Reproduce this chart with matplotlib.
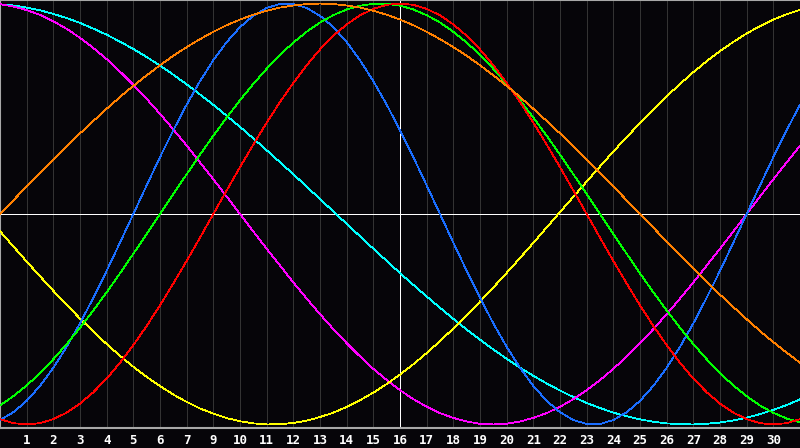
import matplotlib
matplotlib.use("Agg")
import matplotlib.pyplot as plt
import numpy as np

# half-day steps along the x axis (0 .. 30)
days = np.arange(61) / 2

# tick labels under the grid lines (the "8" is missing in the original)
tick_pos = list(range(1, 30))
tick_labels = ["1", "2", "3", "4", "5", "6", "7", "9", "10", "11", "12", "13",
               "14", "15", "16", "17", "18", "19", "20", "21", "22", "23",
               "24", "25", "26", "27", "28", "29", "30"]
today = 15

# curve values, every half day
physical = [-0.979, -0.942, -0.888, -0.817, -0.731, -0.631, -0.520, -0.398,
            -0.270, -0.136, 0.000, 0.136, 0.270, 0.398, 0.520, 0.631, 0.731,
            0.817, 0.888, 0.942, 0.979, 0.998, 0.998, 0.979, 0.942, 0.888,
            0.817, 0.731, 0.631, 0.520, 0.398, 0.270, 0.136, 0.000, -0.136,
            -0.270, -0.398, -0.520, -0.631, -0.731, -0.817, -0.888, -0.942,
            -0.979, -0.998, -0.998, -0.979, -0.942, -0.888, -0.817, -0.731,
            -0.631, -0.520, -0.398, -0.270, -0.136, 0.000, 0.136, 0.270,
            0.398, 0.520]
emotional = [-0.975, -0.994, -1.000, -0.994, -0.975, -0.944, -0.901, -0.847,
             -0.782, -0.707, -0.623, -0.532, -0.434, -0.330, -0.223, -0.112,
             0.000, 0.112, 0.223, 0.330, 0.434, 0.532, 0.623, 0.707, 0.782,
             0.847, 0.901, 0.944, 0.975, 0.994, 1.000, 0.994, 0.975, 0.944,
             0.901, 0.847, 0.782, 0.707, 0.623, 0.532, 0.434, 0.330, 0.223,
             0.112, 0.000, -0.112, -0.223, -0.330, -0.434, -0.532, -0.623,
             -0.707, -0.782, -0.847, -0.901, -0.944, -0.975, -0.994, -1.000,
             -0.994, -0.975]
intellectual = [-0.910, -0.866, -0.815, -0.756, -0.690, -0.618, -0.541, -0.458,
                -0.372, -0.282, -0.189, -0.095, 0.000, 0.095, 0.189, 0.282,
                0.372, 0.458, 0.541, 0.618, 0.690, 0.756, 0.815, 0.866, 0.910,
                0.945, 0.972, 0.990, 0.999, 0.999, 0.990, 0.972, 0.945, 0.910,
                0.866, 0.815, 0.756, 0.690, 0.618, 0.541, 0.458, 0.372, 0.282,
                0.189, 0.095, 0.000, -0.095, -0.189, -0.282, -0.372, -0.458,
                -0.541, -0.618, -0.690, -0.756, -0.815, -0.866, -0.910, -0.945,
                -0.972, -0.990]
intuitive = [0.997, 0.986, 0.969, 0.946, 0.916, 0.880, 0.837, 0.789, 0.736,
             0.677, 0.614, 0.547, 0.476, 0.402, 0.325, 0.245, 0.165, 0.083,
             0.000, -0.083, -0.165, -0.245, -0.325, -0.402, -0.476, -0.547,
             -0.614, -0.677, -0.736, -0.789, -0.837, -0.880, -0.916, -0.946,
             -0.969, -0.986, -0.997, -1.000, -0.997, -0.986, -0.969, -0.946,
             -0.916, -0.880, -0.837, -0.789, -0.736, -0.677, -0.614, -0.547,
             -0.476, -0.402, -0.325, -0.245, -0.165, -0.083, 0.000, 0.083,
             0.165, 0.245, 0.325]
aesthetic = [-0.082, -0.154, -0.226, -0.296, -0.365, -0.432, -0.497, -0.559,
             -0.618, -0.674, -0.726, -0.774, -0.818, -0.858, -0.893, -0.924,
             -0.949, -0.970, -0.985, -0.995, -1.000, -0.999, -0.993, -0.982,
             -0.965, -0.944, -0.917, -0.885, -0.849, -0.808, -0.763, -0.714,
             -0.661, -0.604, -0.544, -0.482, -0.416, -0.349, -0.280, -0.209,
             -0.137, -0.064, 0.009, 0.082, 0.154, 0.226, 0.297, 0.365, 0.432,
             0.497, 0.559, 0.618, 0.674, 0.726, 0.774, 0.818, 0.858, 0.893,
             0.924, 0.949, 0.970]
awareness = [0.000, 0.065, 0.131, 0.195, 0.259, 0.321, 0.383, 0.442, 0.500,
             0.556, 0.609, 0.659, 0.707, 0.752, 0.793, 0.831, 0.866, 0.897,
             0.924, 0.947, 0.966, 0.981, 0.991, 0.998, 1.000, 0.998, 0.991,
             0.981, 0.966, 0.947, 0.924, 0.897, 0.866, 0.831, 0.793, 0.752,
             0.707, 0.659, 0.609, 0.556, 0.500, 0.442, 0.383, 0.321, 0.259,
             0.195, 0.131, 0.065, 0.000, -0.065, -0.131, -0.195, -0.259,
             -0.321, -0.383, -0.442, -0.500, -0.556, -0.609, -0.659, -0.707]
spiritual = [0.997, 0.991, 0.981, 0.968, 0.951, 0.931, 0.908, 0.881, 0.852,
             0.819, 0.784, 0.746, 0.705, 0.662, 0.616, 0.568, 0.519, 0.467,
             0.414, 0.359, 0.303, 0.246, 0.189, 0.130, 0.071, 0.012, -0.047,
             -0.106, -0.165, -0.223, -0.281, -0.337, -0.392, -0.446, -0.498,
             -0.549, -0.597, -0.644, -0.688, -0.730, -0.769, -0.805, -0.839,
             -0.870, -0.898, -0.922, -0.944, -0.961, -0.976, -0.987, -0.995,
             -0.999, -1.000, -0.997, -0.991, -0.981, -0.968, -0.951, -0.931,
             -0.908, -0.881]

series = [
    (spiritual, "#00ffff"),
    (intuitive, "#ff00ff"),
    (aesthetic, "#ffff00"),
    (physical, "#1a6eff"),
    (intellectual, "#00ff00"),
    (emotional, "#ff0000"),
    (awareness, "#ff8000"),
]

bg = "#060509"
px = 0.72  # one pixel in points at dpi 100
fig = plt.figure(figsize=(8, 4.48), dpi=100, facecolor=bg)
ax = fig.add_axes([0, 20 / 448, 1, 428 / 448], facecolor=bg)

ax.set_xlim(0, 30)
ax.set_ylim(-1.017, 1.017)

for x in tick_pos:
    ax.axvline(x, color="#333333", lw=px, zorder=1, antialiased=False)
ax.axhline(0, color="white", lw=px, zorder=2, antialiased=False)
ax.axvline(today, color="white", lw=px, zorder=2, antialiased=False)

for vals, col in series:
    ax.plot(days, vals, color=col, lw=0.55, zorder=3, antialiased=False)

ax.set_xticks(tick_pos)
ax.set_xticklabels(tick_labels, color="white", fontsize=9, fontweight="bold",
                   family="DejaVu Sans Mono")
ax.tick_params(axis="x", length=0, pad=4)
ax.set_yticks([])

for side in ["left", "top", "bottom"]:
    ax.spines[side].set_color("#a8a8a8")
    ax.spines[side].set_linewidth(1.5)
ax.spines["right"].set_visible(False)

fig.savefig("out.png", dpi=100, facecolor=bg)
